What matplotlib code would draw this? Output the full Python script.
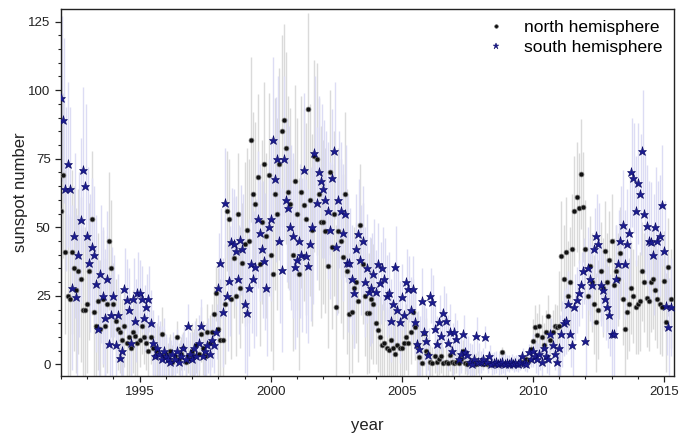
import numpy as np
import matplotlib
matplotlib.use("Agg")
import matplotlib.pyplot as plt
from matplotlib.lines import Line2D
from matplotlib.ticker import MultipleLocator

plt.rcParams['font.family'] = ['Liberation Sans', 'DejaVu Sans']

# monthly values, Jan 1992 .. Apr 2015
north = [
    56, 69, 41, 25, 24, 41, 35, 27, 34, 31, 20, 20,          # 1992
    22, 34, 53, 19, 14, 23, 13, 24, 14, 22, 45, 35,          # 1993
    22, 16, 13, 12, 9, 14, 8, 10, 6, 12, 10.5, 8,            # 1994
    9, 14, 10, 8, 5, 10, 6, 3, 5, 4, 11, 3,                  # 1995
    4, 2, 5, 1, 3, 10, 2, 4, 6, 1, 3, 2,                     # 1996
    5, 3, 7, 4, 11, 6, 3, 12, 8, 12, 18.5, 26,               # 1997
    13, 9, 9, 22, 56, 53, 24, 39, 25, 55, 28, 37,            # 1998
    44, 49, 45, 82, 62, 58.5, 68.5, 36.7, 52, 73, 47, 69,    # 1999
    40, 33, 62, 55, 73, 85, 89, 79, 63, 58.6, 40, 67,        # 2000
    55, 33, 63, 58, 53, 93, 60, 49, 76, 75, 62, 52,          # 2001
    52, 48.8, 36, 70, 43, 55, 21, 48.8, 45, 39.3, 62, 34,    # 2002
    18.5, 19, 28, 30, 23, 51, 36.7, 25, 18.6, 18.8, 24, 22,  # 2003
    15, 12.4, 10, 7, 8, 6, 5.2, 9, 6, 4, 7, 6,               # 2004
    6, 8, 10, 8, 12, 19, 13.6, 7, 2.7, 0.5, 11.4, 5,         # 2005
    4, 1, 0.5, 3, 1, 2, 3, 0.5, 1, 0.5, 3.6, 1,              # 2006
    0.5, 1, 0.5, 2, 5, 0.5, 0.2, 1, 0.3, 0.5, 0.2, 1,        # 2007
    0.5, 0.3, 1, 0.2, 0.5, 0.3, 0.1, 0.5, 0.3, 0.2, 4.5, 0.3,  # 2008
    0.3, 0.1, 0.2, 0.5, 0.2, 0.3, 0.5, 1, 0.8, 2, 1.5, 5.5,  # 2009
    8.7, 13.6, 10.7, 14, 10, 7, 12, 17.5, 9, 12, 14, 13.6,   # 2010
    14, 39.5, 31, 41, 25, 30, 42, 56, 61, 57, 69.5, 57.5,    # 2011
    42, 25, 36, 30, 22, 15.4, 20, 34, 28, 41.5, 30, 38,      # 2012
    45, 29, 34, 31, 40.5, 24, 13, 19, 22, 28, 25, 21,        # 2013
    22, 23, 34, 30, 24.4, 23, 30, 31, 27, 24, 22, 21,        # 2014
    30.5, 15.4, 35.5, 24,                                    # 2015
]

south = [
    97, 89, 64, 73, 64, 28, 47, 24.5, 40, 52.5, 71, 65,      # 1992
    47, 37, 43, 40, 29.5, 13, 33, 25, 17, 31, 7.5, 18,       # 1993
    25, 7, 18, 2.2, 5, 27.6, 23.5, 20, 8, 24, 16, 26,        # 1994
    26, 24, 17, 21, 24, 15, 8, 3, 6, 4, 2, 5,                # 1995
    3, 2, 1, 4, 2, 5, 1, 3, 6, 2, 14, 4,                     # 1996
    2, 6, 3, 8, 14, 3, 5, 7, 4, 9, 7, 12,                    # 1997
    28, 37, 19, 59, 25, 30.5, 44.5, 44, 41.5, 31, 45.5, 42,  # 1998
    22, 18.8, 28, 36.5, 31, 35.5, 53, 48, 42, 37.6, 28, 50,  # 1999
    53, 82, 67.5, 75, 45, 34.4, 75, 60, 57, 50, 47, 35.5,    # 2000
    38, 45, 40, 71, 39.5, 36, 44, 50, 77, 58.7, 70, 67,      # 2001
    64, 60, 56, 49, 68, 78, 43, 60, 56, 48, 55, 37,          # 2002
    37, 31, 26, 42, 47.5, 38, 45, 30, 35, 26.6, 28, 33,      # 2003
    26.6, 36.7, 29.6, 35, 31, 25, 26, 16, 22, 35.5, 20, 15.4,  # 2004
    24.5, 18, 30, 27.6, 20, 27.6, 15.4, 7.6, 5.5, 23, 12, 8.7,  # 2005
    3.3, 25, 22.7, 13, 7.5, 15.4, 10.4, 18.7, 16, 8, 12, 5,  # 2006
    11.8, 9.2, 2, 4, 11, 4.5, 3.5, 1, 0.3, 2, 10.4, 1,       # 2007
    1, 2, 10, 1, 3, 0.3, 0.5, 1, 0.3, 0.5, 1, 0.3,           # 2008
    0.5, 0.3, 1, 0.2, 0.5, 0.3, 1, 3, 0.5, 0.3, 4.5, 2,      # 2009
    5, 3, 2, 4, 1, 6, 3, 2, 11, 7, 4, 1,                     # 2010
    6, 11, 15, 16, 22, 11, 7, 21, 23.5, 26, 29, 34,          # 2011
    8.7, 35, 31, 29, 42, 47, 44, 29, 27, 24, 21, 18,         # 2012
    11.2, 11, 31, 36.5, 45, 51, 36.5, 44, 48, 70, 68, 56,    # 2013
    66, 62, 78, 55, 50.6, 45, 44.5, 40, 50, 45, 47, 58,      # 2014
    41.5, 21.5, 13.6, 21,                                    # 2015
]

# typical error-bar half length per year (1992 .. 2015)
err_north_year = [30, 25, 15, 10, 6, 10, 22, 30, 35, 35, 30, 22,
                  15, 12, 6, 4, 2, 2, 8, 20, 18, 17, 18, 18]
err_south_year = [30, 25, 15, 12, 8, 10, 20, 25, 30, 28, 25, 20,
                  15, 12, 10, 7, 4, 3, 6, 12, 15, 20, 22, 18]

start_year = 1992
year_ticks = [1995, 2000, 2005, 2010, 2015]
y_ticks = [0, 25, 50, 75, 100, 125]

north = np.array(north, dtype=float)
south = np.array(south, dtype=float)
t = start_year + np.arange(len(north)) / 12.0
yr_idx = np.arange(len(north)) // 12
err_n = np.array(err_north_year, dtype=float)[yr_idx]
err_s = np.array(err_south_year, dtype=float)[yr_idx]

fig = plt.figure(figsize=(6.81, 4.36), dpi=100)
ax = fig.add_axes([61/681, 1-376/436, (674-61)/681, (376-9)/436])

ax.vlines(t, north - err_n, north + err_n, color='#dadada', lw=1.0, zorder=1)
ax.vlines(t + 0.02, south - err_s, south + err_s, color='#dcdcf4', lw=1.0, zorder=1.5)
ax.plot(t, north, 'o', ms=3.5, mfc='#111111', mec='#777777', mew=0.5, zorder=3)
ax.plot(t, south, '*', ms=6.8, mfc='#1b1b8f', mec='#0a0a60', mew=0.4, zorder=4)

ax.set_xlim(1992, 2015.38)
ax.set_ylim(-4.2, 129.6)
ax.set_xticks(year_ticks)
ax.set_yticks(y_ticks)
ax.xaxis.set_minor_locator(MultipleLocator(1))
ax.yaxis.set_minor_locator(MultipleLocator(5))
ax.tick_params(which='major', direction='out', length=4, width=0.9, labelsize=9.5,
               top=False, right=False, colors='#222222')
ax.tick_params(which='minor', direction='out', length=2.2, width=0.8,
               top=False, right=False, colors='#222222')
for sp in ax.spines.values():
    sp.set_linewidth(1.0)
    sp.set_color('#222222')

ax.set_xlabel('year', fontsize=12, color='#222222', labelpad=14)
ax.set_ylabel('sunspot number', fontsize=12, color='#222222', labelpad=0)

handles = [Line2D([], [], ls='none', marker='o', ms=2.6, mfc='#111111', mec='#555555', mew=0.4),
           Line2D([], [], ls='none', marker='*', ms=4.5, mfc='#1b1b8f', mec='#0a0a60', mew=0.3)]
ax.legend(handles, ['north hemisphere', 'south hemisphere'], loc='upper right',
          bbox_to_anchor=(1.0, 1.0), frameon=False, fontsize=12.5,
          handlelength=1.2, handletextpad=1.0, labelspacing=0.25, borderaxespad=0.25)

fig.savefig('out.png', dpi=100)
